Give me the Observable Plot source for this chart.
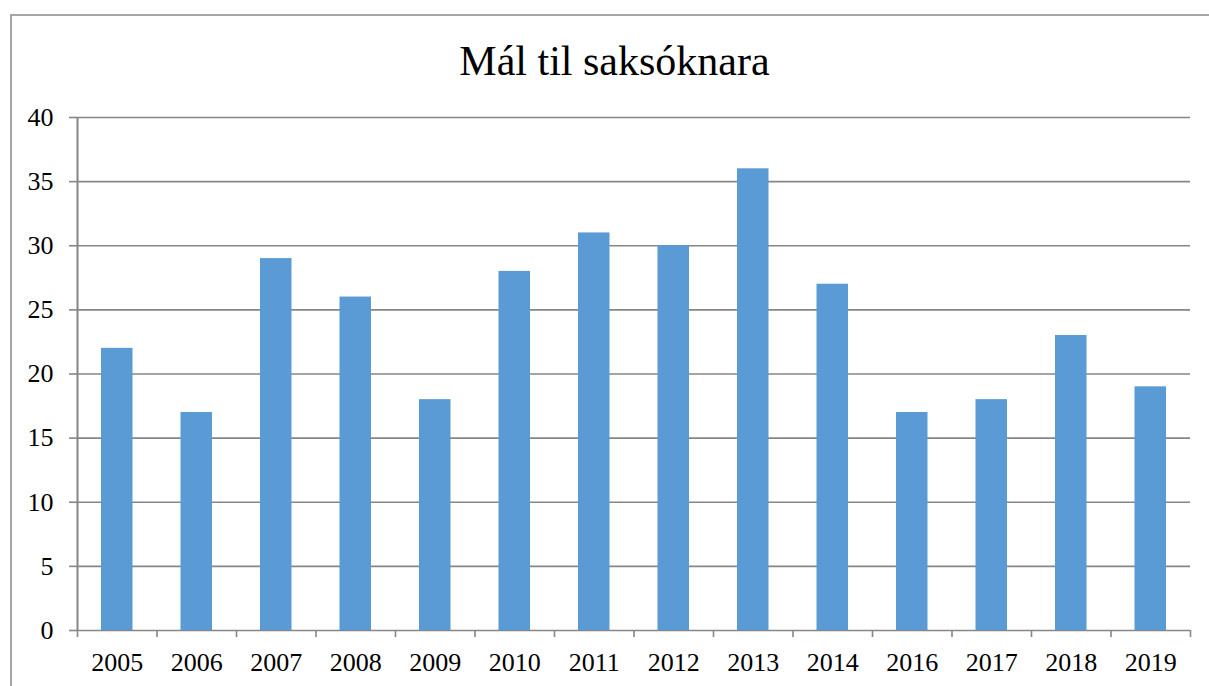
<!DOCTYPE html>
<html>
<head>
<meta charset="utf-8">
<script src="https://cdn.jsdelivr.net/npm/d3@7"></script>
<script src="https://cdn.jsdelivr.net/npm/@observablehq/plot@0.6"></script>
<style>
  html, body { margin: 0; padding: 0; background: white; }
  #wrap { position: relative; width: 1209px; height: 686px; overflow: hidden; background: white; }
  #frame { position: absolute; left: 10px; top: 14px; width: 1400px; height: 1000px;
           border-left: 2px solid #a6a6a6; border-top: 2px solid #a6a6a6; box-sizing: border-box; z-index: 2; pointer-events: none; }
  #title { position: absolute; left: 0; top: 40px; width: 1229px; text-align: center;
           font-family: "Liberation Serif", "Times New Roman", serif; font-size: 42px; line-height: 42px; color: #000; z-index: 3; }
  #chart { position: absolute; left: 0; top: 0; z-index: 1; }
</style>
</head>
<body>
<div id="wrap">
  <div id="frame"></div>
  <div id="title">Mál til saksóknara</div>
  <div id="chart"></div>
</div>
<script>
const years = ["2005", "2006", "2007", "2008", "2009", "2010", "2011", "2012", "2013", "2014", "2016", "2017", "2018", "2019"];
const values = [22, 17, 29, 26, 18, 28, 31, 30, 36, 27, 17, 18, 23, 19];
const yTicks = [0, 5, 10, 15, 20, 25, 30, 35, 40];

const data = years.map((year, i) => ({year, index: i, value: values[i]}));
const gridColor = "#868686";

const chart = Plot.plot({
  width: 1209,
  height: 686,
  marginLeft: 77,
  marginRight: 19,
  marginTop: 117,
  marginBottom: 56,
  style: {background: "transparent", fontFamily: "'Liberation Serif', 'Times New Roman', serif", fontSize: "26px", color: "#000"},
  x: {type: "linear", domain: [0, years.length], axis: null, label: null},
  y: {domain: [0, 40], axis: null, label: null},
  marks: [
    Plot.gridY({ticks: yTicks, stroke: gridColor, strokeOpacity: 1, strokeWidth: 1.6}),
    Plot.rectY(data, {x1: d => d.index, x2: d => d.index + 1, y: "value", fill: "#5B9BD5", insetLeft: 24, insetRight: 24}),
    Plot.ruleX([0], {stroke: gridColor, strokeWidth: 2}),
    Plot.axisY({ticks: yTicks, label: null, tickSize: 8, tickPadding: 16, stroke: gridColor, strokeWidth: 1.6, strokeOpacity: 1, fill: "#000", fontSize: 26}),
    Plot.axisX({ticks: d3.range(years.length + 1), label: null, tickSize: 7, tickFormat: () => "", stroke: gridColor, strokeWidth: 1.6, strokeOpacity: 1}),
    Plot.axisX({ticks: d3.range(years.length).map(i => i + 0.5), label: null, tickSize: 0, tickPadding: 22, tickFormat: d => years[Math.floor(d)], fill: "#000", fontSize: 26})
  ]
});
document.getElementById("chart").appendChild(chart);
</script>
</body>
</html>
